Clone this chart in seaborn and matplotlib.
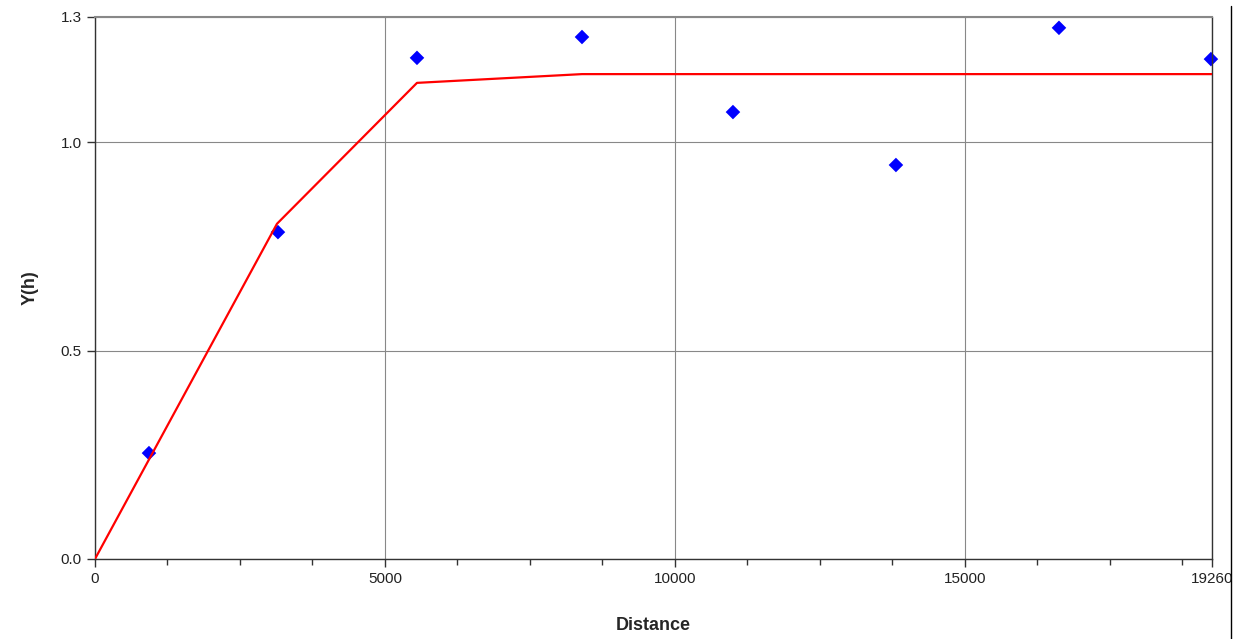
import numpy as np
import pandas as pd
import matplotlib
matplotlib.use("Agg")
import matplotlib.pyplot as plt
import seaborn as sns
from matplotlib.ticker import FixedLocator, MultipleLocator

# empirical semivariogram points
lag_dist = [931, 3155, 5552, 8397, 11000, 13810, 16621, 19241]
gamma_obs = [0.254, 0.784, 1.202, 1.252, 1.072, 0.945, 1.274, 1.199]

# fitted model line
model_dist = [0, 3138, 5552, 8397, 19260]
model_gamma = [0.0, 0.804, 1.142, 1.163, 1.163]

x_ticks = [0, 5000, 10000, 15000, 19260]
y_ticks = [0.0, 0.5, 1.0, 1.3]

sns.set_style("white")
plt.rcParams['font.family'] = ['Liberation Sans', 'DejaVu Sans']

fig = plt.figure(figsize=(12.35, 6.39), dpi=100)
ax = fig.add_axes([0.0769, 0.1252, 0.9045, 0.8482])

pts = pd.DataFrame({"Distance": lag_dist, "Y(h)": gamma_obs})
mdl = pd.DataFrame({"Distance": model_dist, "Y(h)": model_gamma})

sns.scatterplot(data=pts, x="Distance", y="Y(h)", ax=ax, marker="D", s=55,
                color="#0000ff", edgecolor="none", zorder=2, clip_on=False)
sns.lineplot(data=mdl, x="Distance", y="Y(h)", ax=ax, color="#ff0000",
             lw=1.6, zorder=3)

ax.set_xlim(0, 19260)
ax.set_ylim(0, 1.3)
ax.xaxis.set_major_locator(FixedLocator(x_ticks))
ax.yaxis.set_major_locator(FixedLocator(y_ticks))
ax.xaxis.set_minor_locator(MultipleLocator(1250))
ax.set_xticklabels([str(v) for v in x_ticks])
ax.set_yticklabels([f"{v:.1f}" for v in y_ticks])
ax.tick_params(axis="both", which="major", direction="out", length=6,
               width=1, color="#333333", labelsize=11, labelcolor="#222222",
               bottom=True, left=True)
ax.tick_params(axis="x", which="minor", direction="out", length=4,
               width=1, color="#333333", bottom=True)
ax.grid(True, which="major", color="#888888", lw=0.8)
ax.set_axisbelow(True)

for side in ["left", "bottom", "right"]:
    ax.spines[side].set_color("#333333")
    ax.spines[side].set_linewidth(1)
ax.spines["top"].set_color("#888888")
ax.spines["top"].set_linewidth(1.5)

ax.set_xlabel("Distance", fontsize=13, fontweight="bold", labelpad=22)
ax.set_ylabel("Y(h)", fontsize=13, fontweight="bold", labelpad=16)

fig.add_artist(plt.Line2D([1231 / 1235, 1231 / 1235], [0.0, 1 - 6 / 639],
                          transform=fig.transFigure, color="black", lw=1))

fig.savefig("out.png", dpi=100)
